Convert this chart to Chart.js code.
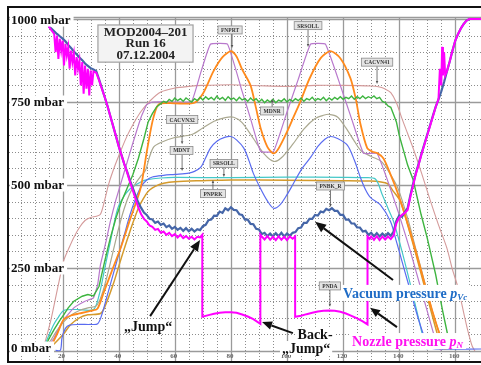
<!DOCTYPE html>
<html><head><meta charset="utf-8">
<script src="https://cdn.jsdelivr.net/npm/chart.js@4"></script>
<style>html,body{margin:0;padding:0;background:#fff;}canvas{display:block;}</style>
</head><body>
<canvas id="c" width="481" height="365"></canvas>
<script>
// ---- data: [time, mbar] ----
const vacuumPressure = [[15,978],[16,971],[17,963],[18,955],[19,948],[20,941],[21,933],[22,922],[23,913],[24,902],[25,894],[26,884],[27,876],[28,866],[29,859],[30,852],[31,848],[32,843],[33,818],[34,792],[35,765],[36,738],[37,708],[38,678],[39,648],[40,617],[41,590],[42,563],[43,540],[44,514],[45,491],[46,468],[47,447],[48,431],[49,417],[50,410],[51,398],[52,396],[53,386],[54,390],[55,380],[56,384],[57,373],[58,378],[59,368],[60,374],[61,365],[62,371],[63,362],[64,370],[65,361],[66,368],[67,360],[68,367],[69,364],[70,376],[71,380],[72,394],[73,396],[74,408],[75,407],[76,420],[77,416],[78,430],[79,424],[80,433],[81,425],[82,424],[83,412],[84,410],[85,396],[86,396],[87,383],[88,382],[89,368],[90,366],[91,352],[92,356],[93,346],[94,354],[95,345],[96,355],[97,346],[98,356],[99,345],[100,354],[101,347],[102,356],[103,358],[104,370],[105,372],[106,386],[107,386],[108,398],[109,398],[110,410],[111,408],[112,420],[113,418],[114,428],[115,424],[116,430],[117,422],[118,422],[119,410],[120,410],[121,396],[122,396],[123,384],[124,384],[125,372],[126,372],[127,360],[128,362],[129,350],[130,356],[131,346],[132,355],[133,345],[134,354],[135,346],[136,355],[137,347],[138,360],[139,392],[140,408],[141,404],[142,418],[143,430],[144,470],[145,505],[146,538],[147,566],[148,596],[149,624],[150,652],[151,680],[152,708],[153,735],[154,758],[155,782],[156,810],[157,842],[158,872],[159,905],[160,935],[161,955],[162,972],[163,985],[164,995],[165,1000],[169.5,1000]];
const nozzlePressure = [[15,978],[16,966],[17,955],[17.5,900],[18,950],[18.5,880],[19,940],[19.5,905],[20,935],[20.5,860],[21,925],[21.5,890],[22,915],[22.5,850],[23,905],[23.5,870],[24,895],[24.5,830],[25,885],[25.5,850],[26,875],[26.5,800],[27,870],[27.5,775],[28,860],[28.5,790],[29,850],[29.5,770],[30,845],[30.5,800],[31,842],[32,838],[33,815],[34,790],[35,765],[36,738],[37,708],[38,678],[39,648],[40,617],[41,590],[42,563],[43,538],[44,510],[45,484],[46,458],[47,432],[48,412],[49,398],[50,390],[51,378],[52,374],[53,365],[54,368],[55,356],[56,360],[57,350],[58,356],[59,346],[60,352],[61,342],[62,350],[63,340],[64,346],[65,338],[66,344],[67,336],[68,344],[69,342],[69.8,350],[69.8,103],[72,108],[74,112],[76,115],[78,117],[80,117],[82,115],[84,110],[86,104],[88,96],[90.5,82],[90.5,350],[91,345],[92,336],[93,346],[94,335],[95,344],[96,334],[97,345],[98,335],[99,344],[100,334],[101,345],[102,338],[102.9,345],[102.9,103],[105,106],[107,111],[109,115],[111,119],[113,121],[115,122],[117,121],[119,118],[121,113],[123,106],[125,98],[127,89],[128.7,80],[128.7,345],[129.5,338],[130,345],[131,335],[132,346],[133,334],[134,345],[135,336],[136,345],[137,337],[138,348],[139,385],[140,402],[141,410],[142,416],[143,425],[144,465],[145,500],[146,535],[147,563],[148,594],[149,622],[150,650],[151,678],[152,706],[153,735],[154,758],[154.5,850],[155,800],[155.3,916],[155.6,830],[156,900],[156.4,830],[157,842],[158,872],[159,905],[160,935],[161,955],[162,972],[163,985],[164,995],[165,1000],[169.5,1000]];
const cacvn41 = [[13,5],[14.5,50],[16,100],[17.5,160],[19,220],[20.5,275],[22,305],[24,342],[26,372],[28,393],[30,402],[32,406],[33.5,412],[35,455],[36.5,505],[38.5,555],[40.5,598],[43,648],[45.5,688],[48,722],[51,752],[55,780],[60,792],[65,797],[70,800],[80,802],[90,799],[100,797],[110,800],[120,800],[130,798],[133,795],[135,789],[137,778],[139,748],[141,700],[143,655],[145,610],[148,535],[151,455],[154,380],[157,310],[159,245],[161,190],[163,115],[164.5,60],[166,15],[167,0]];
const mdnr = [[13.5,5],[15,35],[17,65],[19,92],[20.5,110],[22,130],[24,150],[27,165],[29,170],[31,166],[33,195],[35,270],[37,340],[39,400],[41,450],[43,490],[45,530],[47,580],[49,640],[50.5,690],[52,715],[53.5,735],[55,745],[56,752],[57,748],[58,758],[59,752],[60,762],[61,754],[62,760],[63,752],[64,762],[65,756],[66,750],[67,760],[68,754],[69,764],[70,756],[71,766],[72,758],[73,764],[74,756],[75,768],[76,758],[77,764],[78,755],[79,766],[80,758],[81,762],[82,754],[83,764],[84,756],[85,760],[86,752],[87,762],[88,754],[89,760],[90,750],[91,758],[92,748],[93,756],[94,750],[95,758],[96,748],[97,756],[98,752],[99,760],[100,750],[101,758],[102,752],[103,760],[104,754],[105,762],[106,752],[107,760],[108,756],[109,764],[110,754],[111,760],[112,756],[113,764],[114,754],[115,762],[116,756],[117,764],[118,758],[119,766],[120,758],[121,764],[122,760],[123,768],[124,758],[125,766],[126,760],[127,768],[128,760],[129,766],[130,762],[131,768],[132,760],[133,764],[134,752],[135,748],[136,738],[137,734],[138,712],[139,690],[140,650],[141.5,605],[143,560],[145,515],[147.8,411],[150,340],[153,230],[155.5,120],[157.5,40],[158.5,5]];
const fnprt = [[15.5,8],[18,50],[20.4,95],[23,107],[26,113],[30,121],[32.4,127],[34.6,175],[37.5,240],[40.6,308],[44,395],[47.8,490],[50,600],[52,690],[53.7,737],[55,746],[60,746],[66.8,747],[70,775],[73.8,843],[77,885],[80,903],[82,887],[84,848],[87,800],[89,730],[90.6,671],[93,615],[95.2,595],[97,610],[100,660],[102.5,708],[104.8,752],[108,820],[112,882],[115.5,903],[119,882],[122.6,822],[124.5,760],[126.2,683],[128.6,611],[130.5,600],[132.2,596],[134.4,580],[137,530],[139.3,480],[142.8,390],[146,298],[149,205],[152,115],[155,35],[156.5,5]];
const srsoll = [[14,5],[17,40],[20,90],[24,130],[28,150],[31,160],[32.5,200],[33.5,260],[35.5,330],[37,390],[39,455],[42,540],[45,625],[48,705],[50,742],[52,750],[60,750],[66,752],[69.3,840],[72.7,924],[78.8,924],[84,782],[87,700],[90.6,601],[95.2,601],[100,720],[104,818],[108.4,924],[113.7,924],[119,800],[123,700],[127.3,595],[132.1,595],[136,510],[140,410],[144,300],[148,180],[152,60],[154,10],[155,2]];
const cacvn32 = [[14,8],[16,35],[18,62],[20,85],[23,108],[26,122],[29,130],[32,136],[34,170],[36,230],[38,300],[40,370],[42,430],[44,475],[46,505],[48,528],[49.6,545],[51,585],[52.5,615],[55,628],[60,643],[66,652],[70,672],[74,692],[78,703],[81,704],[84,688],[88,640],[92,592],[95.3,571],[98,582],[102,622],[106,668],[110,700],[113,710],[115,713],[118,705],[121,672],[124,632],[126.4,603],[130,586],[133.6,571],[137,530],[139.6,489],[143,400],[146,305],[149,210],[152,115],[155,40],[157,5]];
const mdnt = [[17.5,2],[19.2,2],[19.8,40],[21,68],[22.5,78],[26,80],[30,80],[32.5,82],[34,110],[36,170],[38,230],[39.6,278],[42,350],[44,410],[46,458],[48,495],[50,515],[52,524],[56,529],[60,532],[65,536],[67,541],[69.2,553],[71,582],[72.7,611],[75,632],[78,644],[80,646],[82,636],[84.6,611],[86.5,572],[88,535],[90.5,490],[93,452],[95.2,430],[97.5,440],[100,471],[102,500],[105,545],[108.4,583],[111,616],[113.5,638],[115.5,646],[118,640],[121.5,620],[124,575],[126.2,522],[128,486],[129.8,462],[133.3,440],[136.9,390],[139,330],[141,270],[143,210],[145,150],[147,92],[149,42],[151,12],[153,6],[169.5,6]];
const srsoll2 = [[13.5,15],[15,45],[16.8,79],[18.2,98],[20.4,122],[25,125],[31,125],[33,168],[35,248],[37,328],[39.6,428],[42,468],[44,488],[46,500],[48,510],[50.2,516],[55,521],[60,523],[80,522],[100,524],[120,523],[127,522],[131.5,518],[134,470],[136,430],[138,390],[141,300],[144,200],[147,95],[149,25],[150,5]];
const pnprk = [[15,5],[18,30],[20.4,52],[22.8,79],[26,100],[29,109],[33.5,113],[35,132],[38,200],[41,282],[44,360],[47,430],[49.6,470],[51,485],[53,496],[56,505],[60,510],[70,513],[80,515],[100,514],[120,513],[130,512],[133,510],[135.8,504],[138,480],[140.5,450],[143,380],[146,290],[149,195],[152,100],[154.5,25],[155.5,5]];

const xTickValues = [20,40,60,80,100,120,140,160];
const yTickValues = [1000,750,500,250,0];
const yTickLabels = ['1000 mbar','750 mbar','500 mbar','250 mbar','0 mbar'];
const titleLines = ['MOD2004–201','Run 16','07.12.2004'];
// small signal tags: [text, boxT, boxP, tipT, tipP]
const tags = [
  ['FNPRT',79.7,967,80.4,913],
  ['SRSOLL',107.5,980,107.5,916],
  ['CACVN41',132.1,870,132.1,804],
  ['MDNR',94.7,723,94.7,759],
  ['CACVN32',62.6,697,62.6,623],
  ['MDNT',62.4,604,62.6,542],
  ['SRSOLL',77.5,565,77.5,524],
  ['PNPRK',73.6,474,73.6,515],
  ['PNBK_R',115.5,497,115.5,434],
  ['PNDA',115.3,196,115.3,133]
];

const toXY = a => a.map(p => ({x:p[0], y:p[1]}));
function ds(data, color, w, tension, extra) {
  return Object.assign({data: toXY(data), borderColor: color, borderWidth: w, pointRadius: 0, fill: false, tension: tension}, extra||{});
}

const F = 'Liberation Serif, Times New Roman, serif';

function arrow(ctx, x1, y1, x2, y2, w, head, color) {
  const ang = Math.atan2(y2 - y1, x2 - x1);
  const bx = x2 - head * Math.cos(ang), by = y2 - head * Math.sin(ang);
  ctx.strokeStyle = color; ctx.fillStyle = color; ctx.lineWidth = w;
  ctx.beginPath(); ctx.moveTo(x1, y1); ctx.lineTo(bx, by); ctx.stroke();
  const hw = head * 0.42;
  ctx.beginPath(); ctx.moveTo(x2, y2);
  ctx.lineTo(bx + hw * Math.sin(ang), by - hw * Math.cos(ang));
  ctx.lineTo(bx - hw * Math.sin(ang), by + hw * Math.cos(ang));
  ctx.closePath(); ctx.fill();
}

const gridPlugin = {
  id: 'gridPlugin',
  beforeDatasetsDraw(chart) {
    const {ctx, chartArea: a, scales: {x, y}} = chart;
    ctx.save();
    ctx.lineWidth = 1;
    ctx.strokeStyle = '#8c8c8c';
    ctx.setLineDash([1, 2]);
    for (let v = 5; v < 170; v += 5) {
      if (v % 20 === 0) continue;
      const px = Math.round(x.getPixelForValue(v)) + 0.5;
      ctx.beginPath(); ctx.moveTo(px, a.top); ctx.lineTo(px, a.bottom); ctx.stroke();
    }
    for (let v = 50; v < 1000; v += 50) {
      if (v % 250 === 0) continue;
      const py = Math.round(y.getPixelForValue(v)) + 0.5;
      ctx.beginPath(); ctx.moveTo(a.left, py); ctx.lineTo(a.right, py); ctx.stroke();
    }
    ctx.setLineDash([]);
    ctx.strokeStyle = '#9a9a9a';
    ctx.lineWidth = 1.3;
    for (let v = 20; v < 170; v += 20) {
      const px = Math.round(x.getPixelForValue(v)) + 0.5;
      ctx.beginPath(); ctx.moveTo(px, a.top); ctx.lineTo(px, a.bottom); ctx.stroke();
    }
    for (let v = 0; v <= 1000; v += 250) {
      const py = Math.round(y.getPixelForValue(v)) + 0.5;
      ctx.beginPath(); ctx.moveTo(a.left, py); ctx.lineTo(a.right, py); ctx.stroke();
    }
    ctx.beginPath(); ctx.moveTo(a.left, a.top + 0.5); ctx.lineTo(a.right, a.top + 0.5); ctx.stroke();
    ctx.restore();
  },
  afterDatasetsDraw(chart) {
    const {ctx, chartArea: a, scales: {x, y}} = chart;
    const X = v => x.getPixelForValue(v), Y = v => y.getPixelForValue(v);
    ctx.save();
    ctx.font = 'bold 13px ' + F;
    ctx.textBaseline = 'middle';
    yTickValues.forEach((v, i) => {
      let py = Y(v) + (v === 1000 ? 1 : 0) + (v === 0 ? -3 : 0);
      const w = ctx.measureText(yTickLabels[i]).width;
      ctx.fillStyle = '#fff';
      ctx.fillRect(a.left + 1, py - 6.5, w + 4, 13);
      ctx.fillStyle = '#111';
      ctx.textAlign = 'left';
      ctx.fillText(yTickLabels[i], a.left + 2, py + 0.5);
    });
    ctx.font = 'bold 7px ' + F;
    ctx.fillStyle = '#666';
    ctx.textAlign = 'center';
    xTickValues.forEach(v => ctx.fillText(String(v), X(v) - 1, 356.5));
    tags.forEach(tg => {
      const [txt, bt, bp, tt, tp] = tg;
      const bx = X(bt), by = Y(bp), tx = X(tt), ty = Y(tp);
      ctx.font = 'bold 5.5px ' + F;
      const w = ctx.measureText(txt).width + 6, h = 8;
      const up = ty < by;
      arrow(ctx, tx, up ? by - h / 2 : by + h / 2, tx, ty, 0.8, 3, '#555');
      ctx.fillStyle = '#e4e4e4';
      ctx.strokeStyle = '#8a8a8a';
      ctx.lineWidth = 0.8;
      ctx.fillRect(bx - w / 2, by - h / 2, w, h);
      ctx.strokeRect(bx - w / 2, by - h / 2, w, h);
      ctx.fillStyle = '#333';
      ctx.textAlign = 'center'; ctx.textBaseline = 'middle';
      ctx.fillText(txt, bx, by + 0.5);
    });
    {
      const x1 = X(32.6), x2 = X(66.5), y1 = Y(982), y2 = Y(870);
      ctx.fillStyle = '#f3f3f3';
      ctx.fillRect(x1, y1, x2 - x1, y2 - y1);
      ctx.strokeStyle = '#a0a0a0'; ctx.lineWidth = 1.2;
      ctx.strokeRect(x1, y1, x2 - x1, y2 - y1);
      ctx.font = 'bold 13px ' + F;
      ctx.fillStyle = '#222'; ctx.textAlign = 'center'; ctx.textBaseline = 'middle';
      const cx = X(49.6);
      [962, 928, 893].forEach((p, i) => ctx.fillText(titleLines[i], cx, Y(p) + 1));
    }
    ctx.font = 'bold 14px ' + F;
    ctx.textBaseline = 'middle';
    function boxText(txt, cx, cy, color, align) {
      const w = ctx.measureText(txt).width;
      const left = align === 'left' ? cx : cx - w / 2;
      ctx.fillStyle = '#fff';
      ctx.fillRect(left - 2, cy - 7, w + 4, 14);
      ctx.fillStyle = color; ctx.textAlign = 'left';
      ctx.fillText(txt, left, cy + 1);
      return left + w;
    }
    boxText('„Jump“', X(50.5), Y(75), '#111', 'center');
    arrow(ctx, X(51.2), Y(105), X(69.0), Y(334), 2, 11, '#111');
    boxText('Back-', X(110), Y(51), '#111', 'center');
    boxText('„Jump“', X(106.8), Y(9), '#111', 'center');
    arrow(ctx, X(102.1), Y(54), X(91.1), Y(87), 2, 10, '#111');
    function pressureLabel(main, sub, t, p, color) {
      ctx.font = 'bold 14px ' + F;
      const w1 = ctx.measureText(main).width;
      ctx.font = 'bold italic 14px ' + F;
      const w2 = ctx.measureText('p').width;
      ctx.font = 'bold italic 9px ' + F;
      const w3 = ctx.measureText(sub).width;
      const lx = X(t), cy = Y(p);
      ctx.fillStyle = '#fff';
      ctx.fillRect(lx - 2, cy - 8, w1 + w2 + w3 + 5, 16);
      ctx.fillStyle = color; ctx.textAlign = 'left'; ctx.textBaseline = 'middle';
      ctx.font = 'bold 14px ' + F; ctx.fillText(main, lx, cy + 1);
      ctx.font = 'bold italic 14px ' + F; ctx.fillText('p', lx + w1, cy + 1);
      ctx.font = 'bold italic 9px ' + F; ctx.fillText(sub, lx + w1 + w2, cy + 5);
    }
    pressureLabel('Vacuum pressure ', 'Vc', 120, 175, '#1f6cc6');
    arrow(ctx, X(137.8), Y(214), X(110), Y(389), 2, 11, '#111');
    pressureLabel('Nozzle pressure ', 'N', 123.2, 30, '#ff10f0');
    arrow(ctx, X(139.2), Y(72), X(129.6), Y(130), 2, 10, '#111');
    ctx.strokeStyle = '#111'; ctx.lineWidth = 2;
    ctx.strokeRect(8, 7, 480, 355);
    ctx.restore();
  }
};

new Chart(document.getElementById('c'), {
  type: 'line',
  data: {
    datasets: [
      ds(nozzlePressure, '#ff00ff', 2, 0),
      ds(vacuumPressure, '#4566a8', 2.2, 0),
      ds(mdnr, '#3db43f', 1.4, 0),
      ds(fnprt, '#ff8a1c', 1.8, 0.25),
      ds(srsoll, '#b878cc', 1.2, 0.1),
      ds(cacvn32, '#aaa890', 1.2, 0.3),
      ds(mdnt, '#5a6cf0', 1.2, 0.3),
      ds(srsoll2, '#44c8c8', 1.2, 0.3),
      ds(pnprk, '#d49a2c', 1.5, 0.3),
      ds(cacvn41, '#d49a9a', 1.1, 0.3)
    ]
  },
  options: {
    responsive: false,
    animation: false,
    devicePixelRatio: 1,
    layout: {padding: {left: 9, top: 17, right: 0, bottom: 4}},
    plugins: {legend: {display: false}, tooltip: {enabled: false}},
    scales: {
      x: {type: 'linear', display: false, min: 0.89, max: 169.16},
      y: {type: 'linear', display: false, min: -30.1, max: 1006}
    }
  },
  plugins: [gridPlugin]
});
</script>
</body></html>
